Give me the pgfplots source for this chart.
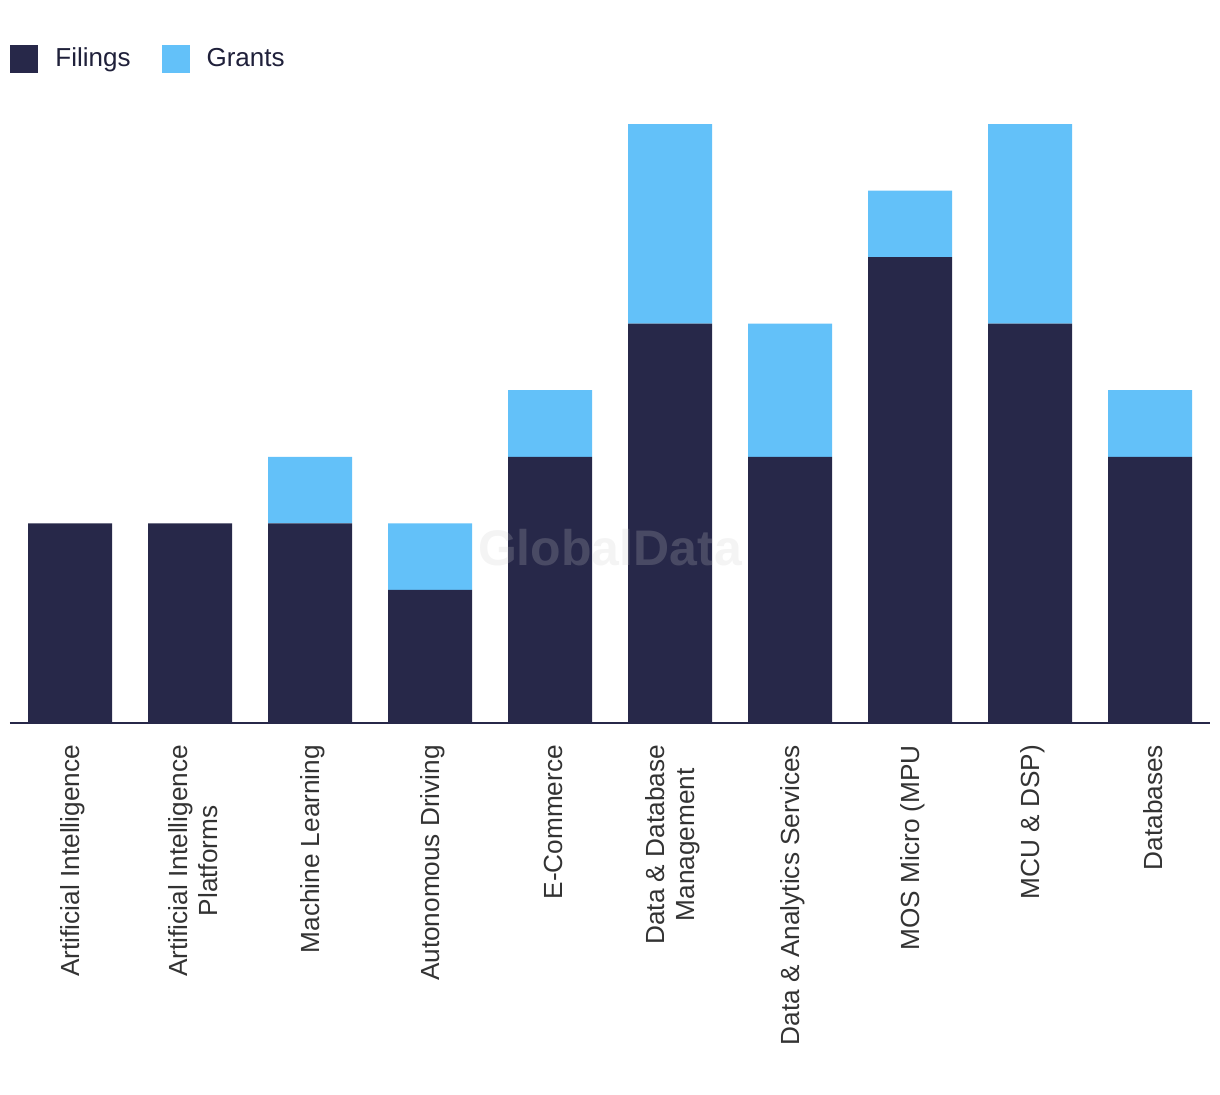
\documentclass[border=0pt]{standalone}
\usepackage{fontspec}
\setmainfont{Liberation Sans}
\usepackage{pgfplots}
\pgfplotsset{compat=1.18}
\definecolor{navy}{HTML}{272849}
\definecolor{sky}{HTML}{63C1F9}
\definecolor{lbl}{HTML}{333333}
\definecolor{wm}{RGB}{202,202,202}
\begin{document}
\begin{tikzpicture}
\useasboundingbox (0,0) rectangle (610pt,547pt);
\begin{axis}[
  at={(5pt,185.5pt)}, anchor=south west,
  scale only axis,
  width=600pt, height=299.5pt,
  xmin=-0.5, xmax=9.5, ymin=0, ymax=9,
  ybar stacked, bar width=42pt,
  axis x line=bottom, axis y line=none,
  x axis line style={-, line width=1pt, draw=navy},
  xtick={0,...,9},
  major tick length=0pt,
  xticklabels={{Artificial Intelligence},{Artificial Intelligence\\Platforms},{Machine Learning},{Autonomous Driving},{E-Commerce},{Data \& Database\\Management},{Data \& Analytics Services},{MOS Micro (MPU},{MCU \& DSP)},{Databases}},
  xticklabel style={rotate=90, anchor=east, align=center, font=\fontsize{13.1}{15}\selectfont, text=lbl, xshift=-7.5pt, yshift=-1.5pt},
  legend columns=2,
  legend style={at={(0,1.1085)}, anchor=west, draw=none, inner xsep=0pt, inner ysep=0pt, font=\fontsize{13}{15}\selectfont, text=navy!80!black,
    /tikz/every odd column/.append style={column sep=6.5pt},
    /tikz/every even column/.append style={column sep=13.5pt}},
  legend image code/.code={\fill[#1] (0pt,-7pt) rectangle (14pt,7pt);},
  legend cell align=left,
]
\addplot[fill=navy, draw=none] coordinates {(0,3) (1,3) (2,3) (3,2) (4,4) (5,6) (6,4) (7,7) (8,6) (9,4)};
\addplot[fill=sky, draw=none] coordinates {(0,0) (1,0) (2,1) (3,1) (4,1) (5,3) (6,2) (7,1) (8,3) (9,1)};
\legend{Filings,Grants}
\coordinate (wmpos) at (axis cs:4.5,2.63);
\end{axis}
\node[text=wm, text opacity=0.21, font=\bfseries\fontsize{25}{25}\selectfont] at (wmpos) {GlobalData};
\end{tikzpicture}
\end{document}
